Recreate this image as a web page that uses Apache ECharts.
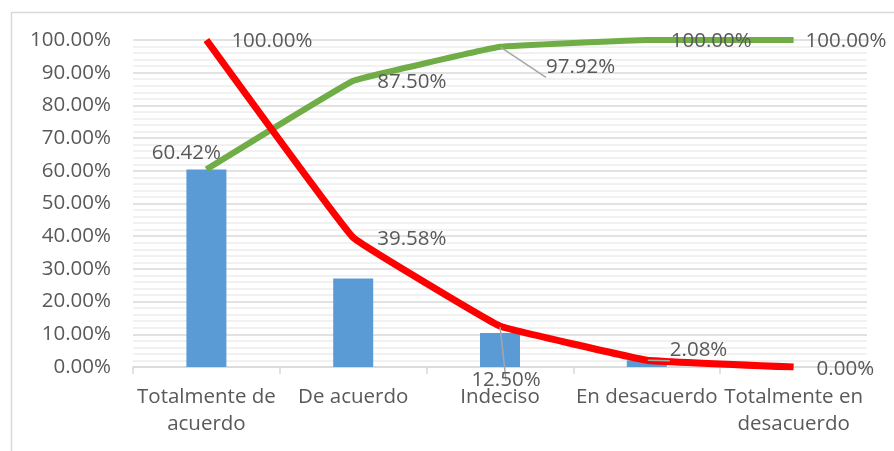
<!DOCTYPE html>
<html>
<head>
<meta charset="utf-8">
<script src="https://cdn.jsdelivr.net/npm/echarts@6/dist/echarts.min.js"></script>
<style>html,body{margin:0;padding:0;background:#fff}#c{width:894px;height:451px}</style>
</head>
<body>
<div id="c"></div>
<script>
const categories = ["Totalmente de\nacuerdo", "De acuerdo", "Indeciso", "En desacuerdo", "Totalmente en\ndesacuerdo"];
const barValues = [60.42, 27.08, 10.42, 2.08, 0];
const cumulativeValues = [60.42, 87.50, 97.92, 100.00, 100.00];
const remainingValues = [100.00, 39.58, 12.50, 2.08, 0.00];
const yTicks = [0, 10, 20, 30, 40, 50, 60, 70, 80, 90, 100];

const FONT = 'Open Sans';
const TXT = '#595959';
const FS = 20.5;
const fmt = v => Number(v).toFixed(2) + '%';

// label placement styles (offsets relative to default label anchor)
const greenLabelStyle = [
  {position: 'top', offset: [-20, 0]},
  {position: 'right', offset: [18, 1]},
  {position: 'right', offset: [40, 20], leader: true},
  {position: 'right', offset: [18, 1]},
  {position: 'right', offset: [6, 1]}
];
const redLabelStyle = [
  {position: 'right', offset: [19, 1]},
  {position: 'right', offset: [18, 2]},
  {position: 'bottom', offset: [6, 38], leader: true},
  {position: 'right', offset: [17, -10], leader: true},
  {position: 'right', offset: [17, 2]}
];

function lineData(values, styles) {
  return values.map((v, i) => ({
    value: v,
    label: {position: styles[i].position, offset: styles[i].offset},
    labelLine: {show: !!styles[i].leader, lineStyle: {color: '#a6a6a6', width: 1.5}}
  }));
}

const chart = echarts.init(document.getElementById('c'));
chart.setOption({
  animation: false,
  backgroundColor: '#fff',
  textStyle: {fontFamily: FONT},
  graphic: [{
    type: 'rect', left: 9, top: 10,
    shape: {width: 900, height: 460},
    style: {fill: 'none', stroke: '#d9d9d9', lineWidth: 1.5},
    silent: true, z: -10
  }],
  grid: {left: 133, right: 27, top: 40, bottom: 84},
  xAxis: {
    type: 'category',
    data: categories,
    boundaryGap: true,
    axisLine: {lineStyle: {color: '#d9d9d9', width: 1.5}},
    axisTick: {show: true, alignWithLabel: false, length: 7, lineStyle: {color: '#d9d9d9', width: 1.5}},
    axisLabel: {interval: 0, color: TXT, fontSize: FS, fontFamily: FONT, margin: 17, lineHeight: 27}
  },
  yAxis: {
    type: 'value',
    min: yTicks[0], max: yTicks[yTicks.length - 1], interval: 10,
    axisLine: {show: false},
    axisTick: {show: false},
    axisLabel: {color: TXT, fontSize: FS, fontFamily: FONT, margin: 22, formatter: v => fmt(v)},
    splitLine: {lineStyle: {color: '#d9d9d9', width: 1.5}},
    minorTick: {show: false, splitNumber: 5},
    minorSplitLine: {show: true, lineStyle: {color: '#ededed', width: 1.5}}
  },
  series: [
    {
      type: 'bar',
      data: barValues,
      barWidth: 40,
      itemStyle: {color: '#5b9bd5'},
      z: 2
    },
    {
      type: 'line',
      data: lineData(cumulativeValues, greenLabelStyle),
      smooth: 0.06,
      symbol: 'circle', symbolSize: 2, showSymbol: true,
      itemStyle: {color: 'rgba(0,0,0,0)', borderWidth: 0},
      lineStyle: {color: '#70ad47', width: 6},
      label: {show: true, color: TXT, fontSize: FS, fontFamily: FONT, formatter: p => fmt(p.value)},
      z: 3
    },
    {
      type: 'line',
      data: lineData(remainingValues, redLabelStyle),
      smooth: 0.06,
      symbol: 'circle', symbolSize: 2, showSymbol: true,
      itemStyle: {color: 'rgba(0,0,0,0)', borderWidth: 0},
      lineStyle: {color: '#ff0000', width: 7},
      label: {show: true, color: TXT, fontSize: FS, fontFamily: FONT, formatter: p => fmt(p.value)},
      z: 4
    }
  ]
});
</script>
</body>
</html>
